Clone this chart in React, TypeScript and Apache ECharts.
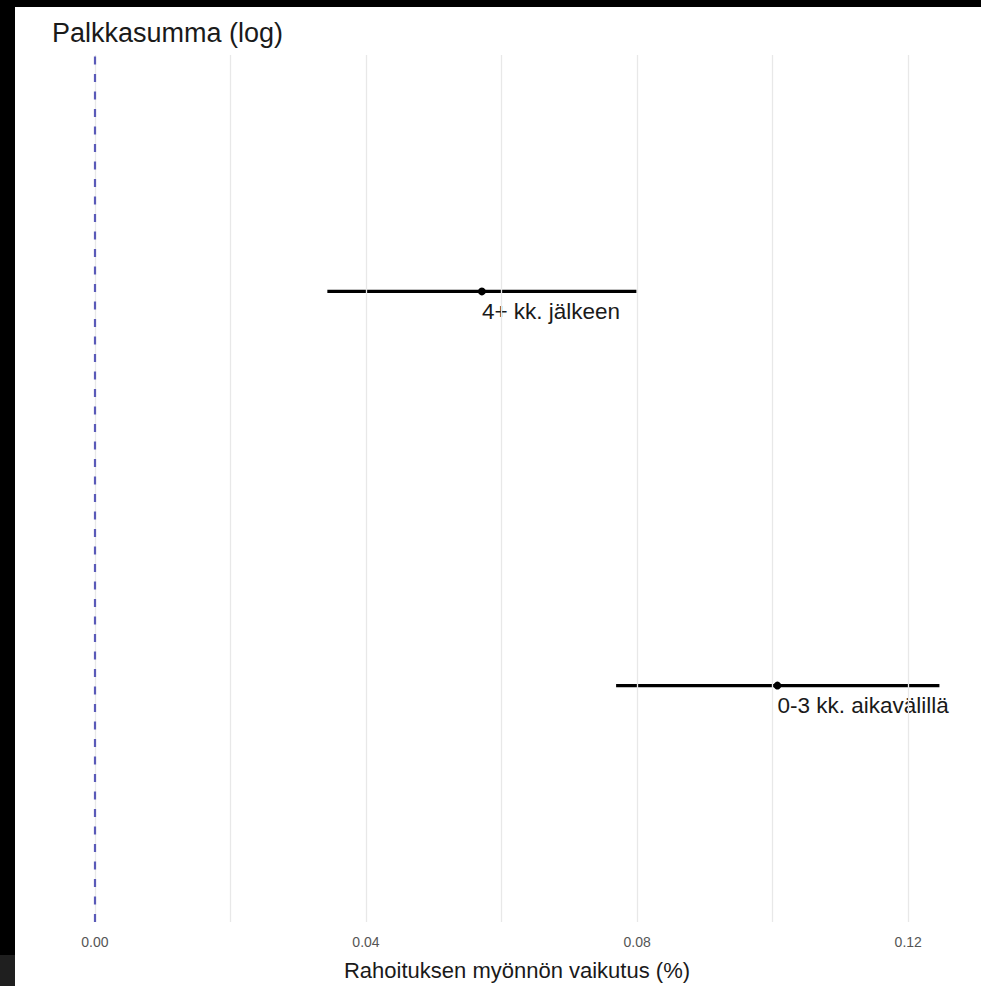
import React, { useEffect, useRef } from 'react';
import * as echarts from 'echarts';

// Data
const categories = ['0-3 kk. aikavälillä', '4+ kk. jälkeen'];
const estimates = [0.1007, 0.0571];
const lower = [0.0769, 0.0343];
const upper = [0.1246, 0.0799];
const xTickLabels = [0, 0.04, 0.08, 0.12];
const gridValues = [0, 0.02, 0.04, 0.06, 0.08, 0.1, 0.12];
const referenceValue = 0;

const FONT = 'Liberation Sans, Arial, Helvetica, sans-serif';

export default function App() {
  const ref = useRef<HTMLDivElement>(null);
  useEffect(() => {
    const chart = echarts.init(ref.current!, null, { renderer: 'svg' });
    const rows = categories.map((c, i) => [lower[i], upper[i], estimates[i], i + 1]);
    chart.setOption({
      animation: false,
      backgroundColor: '#ffffff',
      textStyle: { fontFamily: FONT },
      title: {
        text: 'Palkkasumma (log)',
        left: 47,
        top: 14,
        textStyle: { fontSize: 27, fontWeight: 'normal', color: '#1a1a1a', fontFamily: FONT },
      },
      grid: { left: 53, top: 55, width: 931, height: 868, containLabel: false },
      xAxis: {
        type: 'value',
        min: -0.006176,
        max: 0.130735,
        axisLine: { show: false },
        axisTick: { show: false },
        splitLine: { show: false },
        axisLabel: {
          customValues: xTickLabels,
          formatter: (v: number) => v.toFixed(2),
          color: '#555555',
          fontSize: 14,
          margin: 13,
          fontFamily: FONT,
        },
        name: 'Rahoituksen myönnön vaikutus (%)',
        nameLocation: 'middle',
        nameGap: 37,
        nameTextStyle: { fontSize: 22, color: '#1a1a1a', fontFamily: FONT },
      },
      yAxis: { type: 'value', min: 0.4, max: 2.6, show: false },
      series: [
        {
          type: 'line',
          data: [],
          z: 1,
          markLine: {
            silent: true,
            symbol: 'none',
            label: { show: false },
            lineStyle: { color: '#e8e8e8', width: 1.3, type: 'solid' },
            data: gridValues.map((v) => ({ xAxis: v })),
          },
        },
        {
          type: 'custom',
          z: 3,
          data: rows,
          encode: { x: [0, 1, 2], y: 3 },
          renderItem: (params: any, api: any) => {
            const y = api.value(3);
            const p1 = api.coord([api.value(0), y]);
            const p2 = api.coord([api.value(1), y]);
            const pe = api.coord([api.value(2), y]);
            return {
              type: 'group',
              children: [
                {
                  type: 'line',
                  shape: { x1: p1[0], y1: p1[1], x2: p2[0], y2: p2[1] },
                  style: { stroke: '#000000', lineWidth: 3.2 },
                },
                {
                  type: 'circle',
                  shape: { cx: pe[0], cy: pe[1], r: 3.9 },
                  style: { fill: '#000000' },
                },
                {
                  type: 'text',
                  x: pe[0],
                  y: pe[1] + 20,
                  style: {
                    text: categories[params.dataIndex],
                    fill: '#1a1a1a',
                    fontSize: 22.5,
                    fontFamily: FONT,
                    align: 'left',
                    verticalAlign: 'middle',
                  },
                },
              ],
            };
          },
        },
        {
          type: 'line',
          data: [],
          z: 2,
          markLine: {
            silent: true,
            symbol: 'none',
            label: { show: false },
            lineStyle: { color: '#5a5ab8', width: 2.2, type: [8, 9.5] },
            data: [{ xAxis: referenceValue }],
          },
        },
      ],
      graphic: [
        { type: 'rect', shape: { x: 0, y: 0, width: 981, height: 7 }, style: { fill: '#000000' }, z: 100 },
        { type: 'rect', shape: { x: 0, y: 0, width: 15, height: 955 }, style: { fill: '#000000' }, z: 100 },
        { type: 'rect', shape: { x: 0, y: 955, width: 15, height: 31 }, style: { fill: '#1f1f1f' }, z: 100 },
      ],
    });
    return () => chart.dispose();
  }, []);
  return (
    <div
      ref={ref}
      style={{ position: 'fixed', left: 0, top: 0, width: 981, height: 986 }}
    />
  );
}
